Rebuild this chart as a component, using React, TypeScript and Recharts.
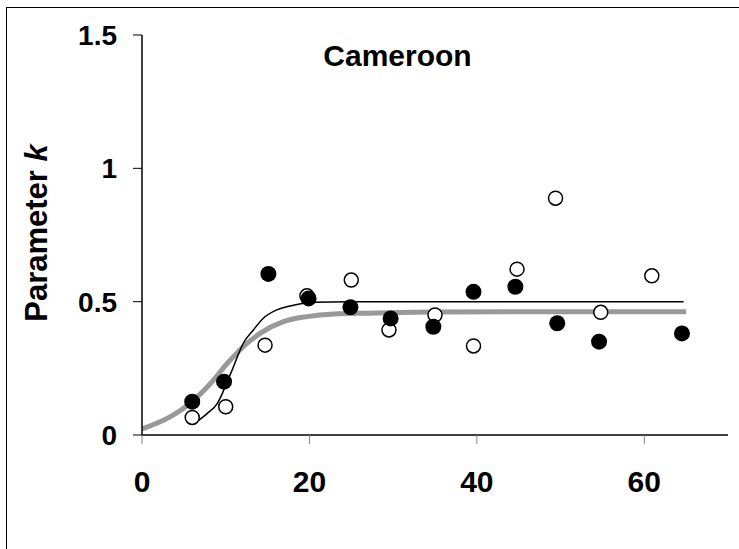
import React from 'react';
import { ComposedChart, Line, Scatter, XAxis, YAxis } from 'recharts';

// observed k, filled symbols
const filledX = [6, 9.8, 15.1, 19.9, 24.9, 29.7, 34.8, 39.6, 44.6, 49.6, 54.6, 64.5];
const filledY = [0.125, 0.2, 0.604, 0.512, 0.479, 0.437, 0.406, 0.537, 0.556, 0.419, 0.35, 0.381];

// observed k, open symbols
const openX = [6, 10, 14.7, 19.7, 25, 29.5, 35, 39.6, 44.8, 49.4, 54.8, 60.9];
const openY = [0.066, 0.106, 0.337, 0.522, 0.581, 0.394, 0.45, 0.334, 0.622, 0.888, 0.46, 0.597];

// thin black fitted curve
const blackFitX = [6.2, 7.8, 9, 9.6, 10, 10.6, 11.4, 12.1, 13.3, 14.5, 16.1, 17.7, 19.3, 20.5, 25, 35, 45, 55, 64.7];
const blackFitY = [0.042, 0.081, 0.119, 0.156, 0.19, 0.231, 0.294, 0.344, 0.394, 0.438, 0.469, 0.484, 0.494, 0.498, 0.5, 0.5, 0.5, 0.5, 0.5];

// thick grey fitted curve
const greyFitX = [0, 3.4, 6.2, 8.2, 10.2, 12.1, 14.1, 16.9, 19.7, 22.9, 27, 35, 45, 55, 65];
const greyFitY = [0.023, 0.069, 0.131, 0.194, 0.269, 0.331, 0.381, 0.425, 0.444, 0.454, 0.457, 0.461, 0.462, 0.462, 0.462];

const xTicks = [0, 20, 40, 60];
const yTicks = [0, 0.5, 1, 1.5];

const zip = (xs: number[], ys: number[]) => xs.map((x, i) => ({ x, y: ys[i] }));

const FONT = '"Liberation Sans", Arial, sans-serif';

const FilledDot = (props: any) => (
  <circle cx={props.cx} cy={props.cy} r={8} fill="#000" />
);

const OpenDot = (props: any) => (
  <circle cx={props.cx} cy={props.cy} r={7} fill="#fff" stroke="#000" strokeWidth={1.5} />
);

export default function App() {
  return (
    <div style={{ position: 'absolute', left: 0, top: 0, width: 739, height: 549, overflow: 'hidden', background: '#fff' }}>
      <div
        style={{
          position: 'absolute',
          left: 6,
          top: 7,
          width: 800,
          height: 600,
          border: '1.5px solid #000',
        }}
      />
      <div
        style={{
          position: 'absolute',
          left: 0,
          top: 39,
          width: 795,
          textAlign: 'center',
          fontFamily: FONT,
          fontWeight: 'bold',
          fontSize: 30,
        }}
      >
        Cameroon
      </div>
      <div
        style={{
          position: 'absolute',
          left: 37,
          top: 233,
          transform: 'translate(-50%, -50%) rotate(-90deg)',
          whiteSpace: 'nowrap',
          fontFamily: FONT,
          fontWeight: 'bold',
          fontSize: 31,
        }}
      >
        Parameter <i>k</i>
      </div>
      <div style={{ position: 'absolute', left: 0, top: 0 }}>
        <ComposedChart width={739} height={549} margin={{ top: 35, right: 11, left: 0, bottom: 0 }}>
          <XAxis
            type="number"
            dataKey="x"
            domain={[0, 70]}
            ticks={xTicks}
            height={114}
            tickSize={9}
            tickMargin={27}
            axisLine={{ stroke: '#000', strokeWidth: 1.5 }}
            tickLine={{ stroke: '#808080', strokeWidth: 1 }}
            tick={{ fill: '#000', fontSize: 30, fontWeight: 'bold', fontFamily: FONT }}
            allowDataOverflow
          />
          <YAxis
            type="number"
            dataKey="y"
            domain={[0, 1.5]}
            ticks={yTicks}
            width={142}
            tickSize={9}
            tickMargin={16}
            axisLine={{ stroke: '#000', strokeWidth: 1.5 }}
            tickLine={{ stroke: '#000', strokeWidth: 1 }}
            tick={{ fill: '#000', fontSize: 28, fontWeight: 'bold', fontFamily: FONT }}
            allowDataOverflow
          />
          <Line
            data={zip(greyFitX, greyFitY)}
            dataKey="y"
            type="monotone"
            stroke="#999999"
            strokeWidth={5}
            dot={false}
            activeDot={false}
            isAnimationActive={false}
          />
          <Line
            data={zip(blackFitX, blackFitY)}
            dataKey="y"
            type="monotone"
            stroke="#000"
            strokeWidth={1.5}
            dot={false}
            activeDot={false}
            isAnimationActive={false}
          />
          <Scatter data={zip(openX, openY)} dataKey="y" shape={OpenDot} isAnimationActive={false} />
          <Scatter data={zip(filledX, filledY)} dataKey="y" shape={FilledDot} isAnimationActive={false} />
        </ComposedChart>
      </div>
    </div>
  );
}
